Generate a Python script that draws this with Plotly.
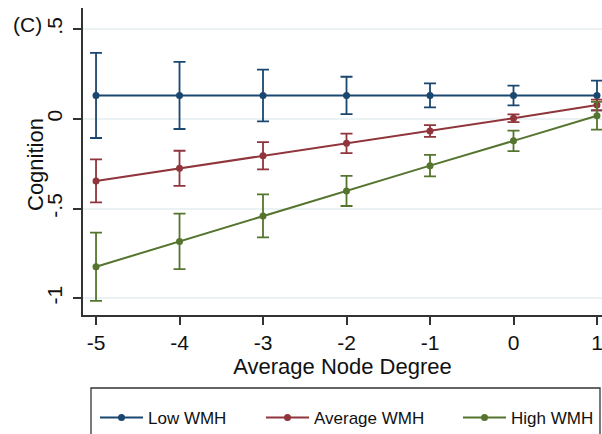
import plotly.graph_objects as go

# Average node degree (x) and predicted cognition by WMH level
degree = [-5, -4, -3, -2, -1, 0, 1]

low_wmh = [0.13, 0.13, 0.13, 0.13, 0.13, 0.13, 0.13]
low_ci = [0.237, 0.187, 0.144, 0.104, 0.067, 0.055, 0.083]

avg_wmh = [-0.346, -0.276, -0.206, -0.137, -0.068, 0.003, 0.077]
avg_ci = [0.120, 0.098, 0.076, 0.054, 0.033, 0.022, 0.030]

high_wmh = [-0.824, -0.683, -0.541, -0.402, -0.261, -0.123, 0.017]
high_ci = [0.190, 0.155, 0.120, 0.084, 0.060, 0.057, 0.077]

series_names = ["Low WMH", "Average WMH", "High WMH"]
y_tickvals = [-1, -0.5, 0, 0.5]
y_ticktext = ["-1", "-.5", "0", ".5"]
x_tickvals = [-5, -4, -3, -2, -1, 0, 1]
x_ticktext = ["-5", "-4", "-3", "-2", "-1", "0", "1"]

colors = ["#1a476f", "#90353b", "#55752f"]
FONT = "Liberation Sans, Arial, Helvetica, sans-serif"
TXT = "#111"
W, H = 602, 434
ML, MR, MT, MB = 83, 0, 8, 119

fig = go.Figure()
legend_ids = ["legend", "legend2", "legend3"]
for name, ys, ci, col, lg in zip(series_names, [low_wmh, avg_wmh, high_wmh],
                                  [low_ci, avg_ci, high_ci], colors, legend_ids):
    fig.add_trace(go.Scatter(
        x=degree, y=ys, name=name, mode="lines+markers",
        line=dict(color=col, width=2),
        marker=dict(color=col, size=7),
        error_y=dict(type="data", array=ci, visible=True, color=col,
                     thickness=1.8, width=6),
        legend=lg,
    ))

plot_w = W - ML - MR
plot_h = H - MT - MB


def px_x(p):
    return (p - ML) / plot_w


def px_y(p):
    return (H - MB - p) / plot_h


legend_common = dict(orientation="h", yanchor="middle", xanchor="left",
                     bgcolor="rgba(0,0,0,0)", borderwidth=0, itemwidth=43,
                     font=dict(family=FONT, size=17, color=TXT))
leg_y = px_y(418)
fig.update_layout(
    legend=dict(x=px_x(95), y=leg_y, **legend_common),
    legend2=dict(x=px_x(261), y=leg_y, **legend_common),
    legend3=dict(x=px_x(458), y=leg_y, **legend_common),
)

# legend frame
fig.add_shape(type="rect", xref="paper", yref="paper",
              x0=px_x(91), x1=px_x(600), y0=px_y(446), y1=px_y(388),
              line=dict(color="#333", width=1.3), fillcolor="rgba(0,0,0,0)")

fig.add_annotation(text="(C)", xref="paper", yref="paper",
                   x=px_x(27), y=px_y(24), xanchor="center", yanchor="middle",
                   showarrow=False, font=dict(family=FONT, size=21, color=TXT))

# y-axis title placed beside the rotated tick labels
fig.add_annotation(text="Cognition", xref="paper", yref="paper",
                   x=px_x(35), y=px_y(165), xanchor="center", yanchor="middle",
                   textangle=-90, showarrow=False,
                   font=dict(family=FONT, size=22, color=TXT))

fig.update_xaxes(
    range=[-5.156, 1.06], tickvals=x_tickvals, ticktext=x_ticktext,
    ticklabeloverflow="allow",
    showline=True, linecolor="#333", linewidth=1.5,
    ticks="outside", ticklen=8, tickwidth=1.5, tickcolor="#333",
    showgrid=False, zeroline=False,
    tickfont=dict(family=FONT, size=21, color=TXT),
    title=dict(text="Average Node Degree", standoff=4,
               font=dict(family=FONT, size=22, color=TXT)),
)
fig.update_yaxes(
    range=[-1.093, 0.617], tickvals=y_tickvals, ticktext=y_ticktext,
    tickangle=-90, ticklabelstandoff=3,
    showline=True, linecolor="#333", linewidth=1.5,
    ticks="outside", ticklen=8, tickwidth=1.5, tickcolor="#333",
    showgrid=True, gridcolor="#eaf2f3", gridwidth=1.5, zeroline=False,
    tickfont=dict(family=FONT, size=21, color=TXT),
)

fig.update_layout(
    width=W, height=H,
    margin=dict(l=ML, r=MR, t=MT, b=MB, autoexpand=False),
    paper_bgcolor="white", plot_bgcolor="white",
    showlegend=True,
)

fig.write_html("out.html")
